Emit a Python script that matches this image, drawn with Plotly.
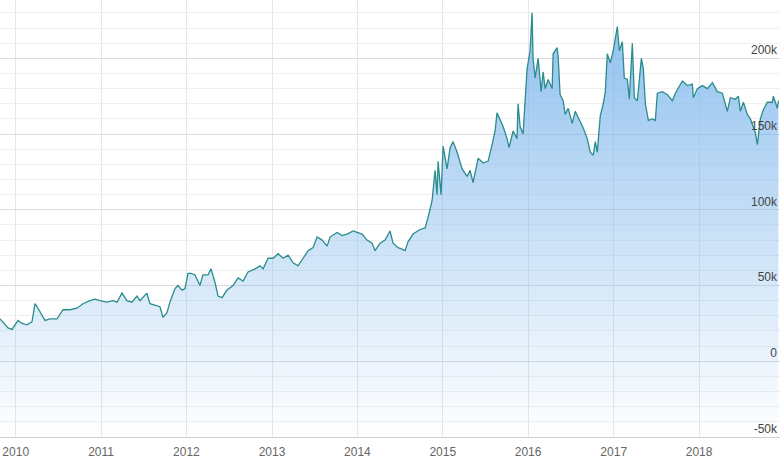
import pandas as pd
import plotly.graph_objects as go

# time as fractional years, value in units
years_frac = [
    2009.816, 2009.851, 2009.910, 2009.957, 2009.992, 2010.027, 2010.074, 2010.132, 2010.191, 2010.226,
    2010.261, 2010.308, 2010.343, 2010.402, 2010.484, 2010.554, 2010.636, 2010.718, 2010.788, 2010.870,
    2010.929, 2010.987, 2011.069, 2011.139, 2011.186, 2011.245, 2011.303, 2011.362, 2011.420, 2011.456,
    2011.537, 2011.573, 2011.631, 2011.690, 2011.725, 2011.772, 2011.807, 2011.866, 2011.901, 2011.948,
    2011.983, 2012.018, 2012.053, 2012.100, 2012.158, 2012.193, 2012.252, 2012.287, 2012.334, 2012.369,
    2012.416, 2012.474, 2012.545, 2012.603, 2012.662, 2012.720, 2012.802, 2012.861, 2012.896, 2012.954,
    2013.013, 2013.071, 2013.130, 2013.188, 2013.247, 2013.305, 2013.364, 2013.423, 2013.481, 2013.528,
    2013.587, 2013.645, 2013.680, 2013.762, 2013.821, 2013.879, 2013.950, 2013.996, 2014.055, 2014.113,
    2014.172, 2014.207, 2014.265, 2014.324, 2014.382, 2014.418, 2014.476, 2014.523, 2014.559, 2014.594,
    2014.652, 2014.734, 2014.793, 2014.828, 2014.875, 2014.910, 2014.933, 2014.945, 2014.980, 2015.004,
    2015.051, 2015.086, 2015.121, 2015.168, 2015.227, 2015.285, 2015.320, 2015.355, 2015.414, 2015.472,
    2015.531, 2015.578, 2015.613, 2015.636, 2015.671, 2015.707, 2015.753, 2015.777, 2015.824, 2015.870,
    2015.882, 2015.906, 2015.941, 2015.964, 2015.988, 2016.023, 2016.046, 2016.058, 2016.082, 2016.117,
    2016.152, 2016.175, 2016.199, 2016.234, 2016.281, 2016.292, 2016.339, 2016.351, 2016.374, 2016.409,
    2016.433, 2016.468, 2016.515, 2016.550, 2016.585, 2016.644, 2016.691, 2016.726, 2016.761, 2016.785,
    2016.808, 2016.843, 2016.878, 2016.902, 2016.925, 2016.960, 2016.995, 2017.042, 2017.066, 2017.101,
    2017.124, 2017.160, 2017.183, 2017.218, 2017.242, 2017.277, 2017.324, 2017.347, 2017.371, 2017.406,
    2017.453, 2017.488, 2017.511, 2017.570, 2017.629, 2017.687, 2017.722, 2017.804, 2017.863, 2017.921,
    2017.933, 2017.980, 2018.038, 2018.097, 2018.156, 2018.214, 2018.273, 2018.331, 2018.366, 2018.425,
    2018.460, 2018.484, 2018.519, 2018.566, 2018.601, 2018.636, 2018.659, 2018.683, 2018.718, 2018.753,
    2018.800, 2018.859, 2018.870, 2018.917, 2018.929,
]
values_k = [
    28, 26, 22, 21, 24, 27, 25, 24, 26, 38,
    35, 30, 27, 28, 28, 34, 34, 35, 38, 40,
    41, 40, 39, 40, 39, 45, 40, 39, 43, 40,
    45, 38, 37, 36, 29, 32, 39, 48, 50, 47,
    48, 58, 58, 57, 50, 57, 57, 61, 52, 43,
    42, 47, 50, 55, 53, 59, 61, 63, 61, 68,
    68, 71, 68, 70, 65, 63, 68, 73, 75, 82,
    80, 76, 82, 85, 83, 84, 86, 85, 84, 80,
    78, 73, 78, 80, 86, 78, 75, 74, 73, 79,
    84, 87, 88, 95, 106, 126, 110, 132, 110, 142,
    127, 141, 145, 138, 127, 122, 126, 118, 134, 131,
    132, 143, 152, 164, 159, 155, 147, 141, 152, 147,
    170, 155, 150, 168, 193, 205, 230, 200, 187, 200,
    178, 191, 180, 186, 180, 203, 207, 201, 176, 172,
    163, 167, 157, 165, 161, 154, 147, 138, 136, 145,
    138, 162, 170, 178, 203, 197, 205, 221, 205, 211,
    187, 186, 173, 210, 174, 172, 200, 193, 170, 159,
    160, 159, 177, 178, 176, 172, 177, 185, 182, 183,
    174, 180, 182, 180, 184, 178, 177, 165, 174, 173,
    175, 165, 171, 163, 160, 154, 151, 143, 160, 166,
    171, 171, 175, 167, 172,
]

y_tick_vals = [-50000, 0, 50000, 100000, 150000, 200000]
y_tick_text = ["-50k", "0", "50k", "100k", "150k", "200k"]
x_tick_labels = ["2010", "2011", "2012", "2013", "2014", "2015", "2016", "2017", "2018"]


def frac_to_date(t):
    year = int(t)
    start = pd.Timestamp(year=year, month=1, day=1)
    end = pd.Timestamp(year=year + 1, month=1, day=1)
    return start + (end - start) * (t - year)


dates = [frac_to_date(t) for t in years_frac]
values = [v * 1000 for v in values_k]
floor = y_tick_vals[0]

fig = go.Figure()
fig.add_trace(go.Scatter(
    x=dates, y=[floor] * len(dates), mode="lines",
    line=dict(width=0), hoverinfo="skip", showlegend=False,
))
fig.add_trace(go.Scatter(
    x=dates, y=values, mode="lines",
    line=dict(color="#2a8c8c", width=1.3),
    fill="tonexty",
    fillgradient=dict(
        type="vertical",
        start=floor, stop=max(values),
        colorscale=[[0, "rgba(124,181,236,0.0)"], [1, "rgba(124,181,236,0.85)"]],
    ),
    showlegend=False,
))

x_ticks = [pd.Timestamp(year=int(y), month=1, day=1) for y in x_tick_labels]

fig.update_layout(
    width=784, height=461,
    margin=dict(l=0, r=4, t=0, b=24),
    paper_bgcolor="white", plot_bgcolor="white",
    font=dict(family="Liberation Sans, Arial, sans-serif", size=12, color="#666666"),
    xaxis=dict(
        type="date", automargin=False,
        range=[frac_to_date(2009.816), frac_to_date(2018.948)],
        tickvals=x_ticks, ticktext=x_tick_labels,
        showgrid=True, gridcolor="#e6e6e6", gridwidth=1,
        showline=True, linecolor="#d0d0d0", linewidth=1,
        ticks="", zeroline=False, ticklabelstandoff=4,
    ),
    yaxis=dict(
        side="right", automargin=False,
        range=[-50000, 238500],
        tickvals=y_tick_vals, ticktext=y_tick_text,
        ticklabelposition="inside top", ticklabelstandoff=0,
        showgrid=True, gridcolor="#dcdcdc", gridwidth=1,
        zeroline=False, ticks="",
        minor=dict(tickmode="linear", tick0=0, dtick=10000, showgrid=True,
                   gridcolor="#f0f0f0", gridwidth=1),
    ),
    hovermode=False,
)

fig.write_html(
    "out.html",
    config={"displayModeBar": False},
    post_script="document.body.style.margin='0';document.body.style.overflow='hidden';",
)
